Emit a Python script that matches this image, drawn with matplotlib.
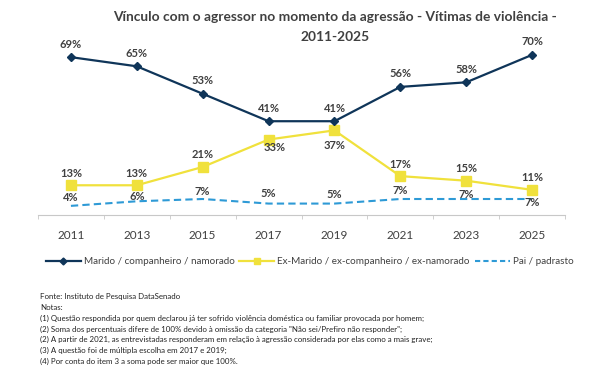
import matplotlib
matplotlib.use("Agg")
import matplotlib.pyplot as plt
from matplotlib.lines import Line2D

years = ["2011", "2013", "2015", "2017", "2019", "2021", "2023", "2025"]
marido = [69, 65, 53, 41, 41, 56, 58, 70]
ex_marido = [13, 13, 21, 33, 37, 17, 15, 11]
pai = [4, 6, 7, 5, 5, 7, 7, 7]

names = ["Marido / companheiro / namorado",
         "Ex-Marido / ex-companheiro / ex-namorado",
         "Pai / padrasto"]
title1 = "Vínculo com o agressor no momento da agressão - Vítimas de violência -"
title2 = "2011-2025"
notes = [
    "Fonte: Instituto de Pesquisa DataSenado",
    "Notas:",
    "(1) Questão respondida por quem declarou já ter sofrido violência doméstica ou familiar provocada por homem;",
    "(2) Soma dos percentuais difere de 100% devido à omissão da categoria \"Não sei/Prefiro não responder\";",
    "(2) A partir de 2021, as entrevistadas responderam em relação à agressão considerada por elas como a mais grave;",
    "(3) A questão foi de múltipla escolha em 2017 e 2019;",
    "(4) Por conta do item 3 a soma pode ser maior que 100%.",
]

c_navy = "#0F3559"
c_yel = "#F0E13C"
c_blue = "#2E9AD6"
c_txt = "#404040"

plt.rcParams['font.family'] = ['Lato', 'DejaVu Sans']

fig = plt.figure(figsize=(6, 3.69), dpi=100)
renderer = fig.canvas.get_renderer()
H = 369.0


def fit(t, target_px):
    w = t.get_window_extent(renderer=renderer).width
    t.set_fontsize(t.get_fontsize() * target_px / w)


ax = fig.add_axes([0.0633, 0.4173, 0.8784, 0.465])
x = list(range(len(years)))

ax.plot(x, pai, color=c_blue, lw=1.5, ls=(0, (3.5, 2)), zorder=2)
ax.plot(x, ex_marido, color=c_yel, lw=1.6, marker="s", ms=6.5, zorder=3)
ax.plot(x, marido, color=c_navy, lw=1.6, marker="D", ms=4, zorder=4)

ax.set_xlim(-0.5, 7.5)
ax.set_ylim(0, 75)
for s in ["top", "right", "left"]:
    ax.spines[s].set_visible(False)
ax.spines["bottom"].set_color("#c8c8c8")
ax.set_yticks([])
ax.set_xticks(x)
ax.set_xticklabels(years, fontsize=8.5, color=c_txt)
ax.tick_params(axis="x", length=0, pad=11)
ax.set_xticks([i - 0.5 for i in range(len(years) + 1)], minor=True)
ax.tick_params(axis="x", which="minor", length=3, color="#c8c8c8")


def lab(vals, offs, dxs=None):
    for i, (v, o) in enumerate(zip(vals, offs)):
        dx = dxs[i] if dxs else 0
        ax.annotate(f"{v}%", (i, v), xytext=(dx, o), textcoords="offset points",
                    ha="center", va="center", fontsize=8, fontweight="bold",
                    color=c_txt, zorder=5)


px = 0.72
lab(marido, [13 * px] * 8)
lab(ex_marido, [12 * px, 12 * px, 12 * px, -8 * px, -15 * px, 12 * px, 12 * px, 12 * px],
    [0, 0, 0, 4, 0, 0, 0, 0])
lab(pai, [8 * px, 5 * px, 8 * px, 10 * px, 9 * px, 9 * px, 5 * px, -3 * px])

t1 = fig.text(335 / 600, 1 - 17 / H, title1, ha="center", va="center", fontsize=10,
              fontweight="bold", color=c_txt)
fit(t1, 444)
fig.text(335 / 600, 1 - 37 / H, title2, ha="center", va="center",
         fontsize=t1.get_fontsize(), fontweight="bold", color=c_txt)

handles = [
    Line2D([], [], color=c_navy, lw=1.6, marker="D", ms=3.5),
    Line2D([], [], color=c_yel, lw=1.6, marker="s", ms=5),
    Line2D([], [], color=c_blue, lw=1.5, ls=(0, (2.5, 1.5))),
]
leg = fig.legend(handles, names, loc="center", bbox_to_anchor=(309.5 / 600, 1 - 262 / H),
                 ncol=3, frameon=False, fontsize=7.0, handlelength=3.6,
                 handletextpad=0.3, columnspacing=0.5, labelcolor=c_txt,
                 borderpad=0)
fig.canvas.draw()
lw_px = leg.get_window_extent(renderer=renderer).width
scale = 531 / lw_px
for t in leg.get_texts():
    t.set_fontsize(7.0 * scale)
leg.prop.set_size(7.0 * scale)

ts = []
for i, t in enumerate(notes):
    ts.append(fig.text(40 / 600, 1 - (297 + i * 10.7) / H, t, ha="left", va="center",
                       fontsize=6, color="#222222"))
fit(ts[4], 396)
for t in ts:
    t.set_fontsize(ts[4].get_fontsize())

fig.savefig("out.png", dpi=100)
